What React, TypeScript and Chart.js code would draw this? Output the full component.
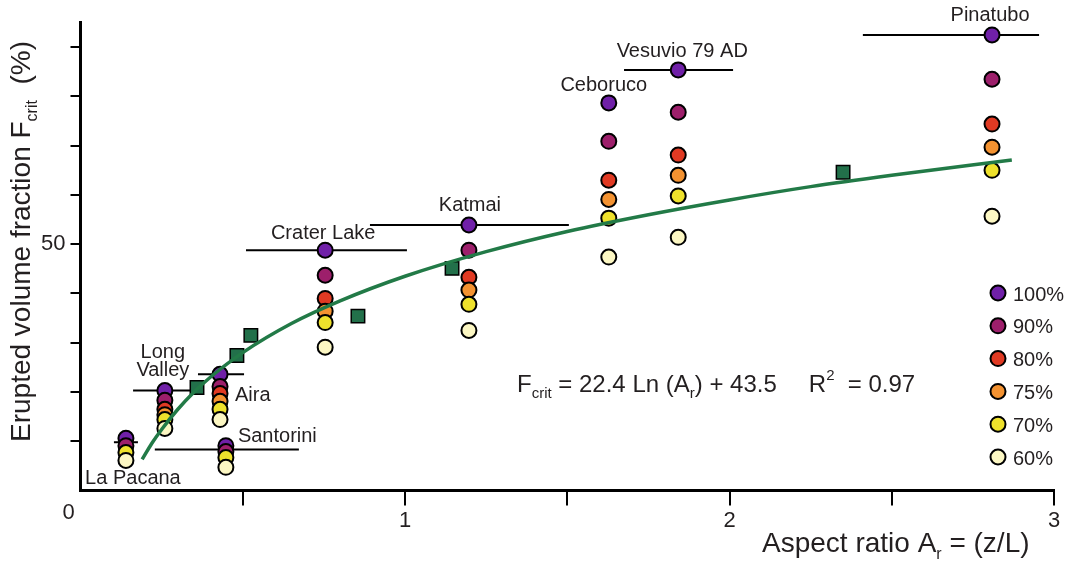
import React, { useEffect, useRef } from "react";
import { Chart, registerables } from "chart.js";

Chart.register(...registerables);

const FONT = '"Liberation Sans", Arial, Helvetica, sans-serif';
const TEXT = "#231f20";

// ---- categories ----
const volcanoes = ["La Pacana", "Long Valley", "Aira", "Santorini", "Crater Lake", "Katmai", "Ceboruco", "Vesuvio 79 AD", "Pinatubo"];
const aspectRatio = [0.14, 0.26, 0.43, 0.448, 0.754, 1.197, 1.628, 1.842, 2.809];

// ---- erupted volume fraction (%) for each percentage series ----
const f100 = [10.6, 20.3, 23.6, 9.1, 48.8, 53.9, 78.7, 85.4, 92.5];
const f90 = [9.1, 18.3, 21.1, 7.9, 43.7, 48.8, 70.9, 76.8, 83.5];
const f80 = [null, 16.5, 19.7, null, 39.0, 43.3, 63.0, 68.1, 74.4];
const f75 = [null, 15.4, 18.1, null, 36.4, 40.7, 59.1, 64.0, 69.7];
const f70 = [7.7, 14.4, 16.5, 6.7, 34.1, 37.8, 55.3, 59.8, 65.0];
const f60 = [6.1, 12.6, 14.4, 4.7, 29.1, 32.5, 47.4, 51.4, 55.7];
const seriesLabels = ["100%", "90%", "80%", "75%", "70%", "60%"];

// ---- aspect-ratio ranges (horizontal bars) ----
const rangeLow = [0.103, 0.162, 0.362, 0.229, 0.51, 0.892, null, 1.675, 2.411];
const rangeHigh = [0.177, 0.368, 0.504, 0.673, 1.006, 1.505, null, 2.011, 2.954];
const rangeY = [9.8, 20.3, 23.6, 8.3, 48.8, 53.9, null, 85.4, 92.5];

// ---- other data (green squares) ----
const otherX = [0.359, 0.482, 0.525, 0.855, 1.145, 2.35];
const otherY = [20.9, 27.4, 31.5, 35.4, 45.1, 64.6];

// ---- fitted curve ----
const fitX = [0.19, 0.22, 0.25, 0.3, 0.35, 0.4, 0.5, 0.65, 0.8, 1.0, 1.25, 1.5, 1.75, 2.0, 2.25, 2.5, 2.87];
const fitY = [6.3, 9.6, 12.4, 16.5, 20.0, 23.0, 28.0, 33.9, 38.5, 43.5, 48.5, 52.6, 56.0, 59.0, 61.7, 64.0, 67.1];

// ---- tick labels ----
const yLabelTicks = [50];
const xLabelTicks = [1, 2, 3];

// ---- styles ----
const seriesColors = ["#7020a8", "#9d1f6b", "#e03a23", "#f39231", "#eee12c", "#fcf7c3"];
const squareColor = "#22704a";
const curveColor = "#227a47";

const labelLayout = [
  { dx: 7, dy: 40, align: "center", split: false },
  { dx: -2, dy: -38, align: "center", split: true },
  { dx: 15, dy: 21, align: "left", split: false },
  { dx: 12, dy: -9, align: "left", split: false },
  { dx: -2, dy: -17, align: "center", split: false },
  { dx: 1, dy: -20, align: "center", split: false },
  { dx: -5, dy: -17, align: "center", split: false },
  { dx: 4, dy: -18, align: "center", split: false },
  { dx: -2, dy: -19, align: "center", split: false },
];

type Run = { text?: string; size?: number; dy?: number; gap?: number };

function drawRuns(ctx: CanvasRenderingContext2D, runs: Run[], x: number, y: number, rotate = false) {
  ctx.save();
  ctx.translate(x, y);
  if (rotate) ctx.rotate(-Math.PI / 2);
  ctx.textAlign = "left";
  ctx.textBaseline = "alphabetic";
  ctx.fillStyle = TEXT;
  let cx = 0;
  for (const r of runs) {
    if (r.gap) {
      cx += r.gap;
      continue;
    }
    ctx.font = `${r.size}px ${FONT}`;
    ctx.fillText(r.text as string, cx, r.dy || 0);
    cx += ctx.measureText(r.text as string).width;
  }
  ctx.restore();
}

const overlayPlugin = {
  id: "overlay",
  afterDatasetsDraw(chart: any) {
    const ctx: CanvasRenderingContext2D = chart.ctx;
    const xs = chart.scales.x;
    const ys = chart.scales.y;
    ctx.save();
    // volcano labels
    ctx.fillStyle = TEXT;
    ctx.font = `20px ${FONT}`;
    ctx.textBaseline = "middle";
    volcanoes.forEach((name, i) => {
      const L = labelLayout[i];
      const px = xs.getPixelForValue(aspectRatio[i]);
      const py = ys.getPixelForValue(f100[i] as number);
      ctx.textAlign = L.align as CanvasTextAlign;
      const lines = L.split ? name.split(" ") : [name];
      lines.forEach((t, j) => ctx.fillText(t, px + L.dx, py + L.dy + j * 18));
    });

    // origin label
    ctx.font = `22px ${FONT}`;
    ctx.textAlign = "center";
    ctx.fillText("0", xs.left - 12, xs.top + 22);

    // legend
    const lx = chart.chartArea.right - 56;
    const ly = 293;
    seriesLabels.forEach((lab, i) => {
      const cy = ly + i * 32.8;
      ctx.beginPath();
      ctx.arc(lx, cy, 7.5, 0, Math.PI * 2);
      ctx.fillStyle = seriesColors[i];
      ctx.fill();
      ctx.lineWidth = 2;
      ctx.strokeStyle = "#000";
      ctx.stroke();
      ctx.fillStyle = TEXT;
      ctx.font = `20px ${FONT}`;
      ctx.textAlign = "left";
      ctx.textBaseline = "middle";
      ctx.fillText(lab, lx + 15, cy + 2);
    });
    ctx.restore();

    // equation
    drawRuns(
      ctx,
      [
        { text: "F", size: 24 },
        { text: "crit", size: 15, dy: 6 },
        { text: " = 22.4 Ln (A", size: 24 },
        { text: "r", size: 15, dy: 6 },
        { text: ") + 43.5", size: 24 },
        { gap: 32 },
        { text: "R", size: 24 },
        { text: "2", size: 15, dy: -12 },
        { text: "  = 0.97", size: 24 },
      ],
      517,
      392
    );

    // axis titles
    drawRuns(
      ctx,
      [
        { text: "Aspect ratio A", size: 28 },
        { text: "r", size: 16, dy: 7 },
        { text: " = (z/L)", size: 28 },
      ],
      762,
      552
    );
    drawRuns(
      ctx,
      [
        { text: "Erupted volume fraction F", size: 28 },
        { text: "crit", size: 16, dy: 7 },
        { text: "  (%)", size: 28 },
      ],
      30,
      442,
      true
    );
  },
};

export default function App() {
  const canvasRef = useRef<HTMLCanvasElement | null>(null);

  useEffect(() => {
    const canvas = canvasRef.current;
    if (!canvas) return;

    const seriesValues = [f100, f90, f80, f75, f70, f60];
    const circleSets = seriesValues.map((vals, k) => ({
      type: "scatter" as const,
      label: seriesLabels[k],
      data: aspectRatio
        .map((x, i) => (vals[i] == null ? null : { x, y: vals[i] as number }))
        .filter((p) => p !== null),
      pointRadius: 7.5,
      pointBackgroundColor: seriesColors[k],
      pointBorderColor: "#000",
      pointBorderWidth: 2,
      order: 6 - k,
      clip: false,
    }));

    const barSets = rangeLow
      .map((lo, i) =>
        lo == null
          ? null
          : {
              type: "line" as const,
              label: "range " + volcanoes[i],
              data: [
                { x: lo, y: rangeY[i] as number },
                { x: rangeHigh[i] as number, y: rangeY[i] as number },
              ],
              borderColor: "#000",
              borderWidth: 2,
              pointRadius: 0,
              order: 8,
              clip: false,
            }
      )
      .filter((d) => d !== null);

    const squares = {
      type: "scatter" as const,
      label: "other",
      data: otherX.map((x, i) => ({ x, y: otherY[i] })),
      pointStyle: "rect",
      pointRadius: 9.5,
      pointBackgroundColor: squareColor,
      pointBorderColor: "#000",
      pointBorderWidth: 1.5,
      order: 7,
      clip: false,
    };

    const curve = {
      type: "line" as const,
      label: "fit",
      data: fitX.map((x, i) => ({ x, y: fitY[i] })),
      borderColor: curveColor,
      borderWidth: 3.5,
      pointRadius: 0,
      cubicInterpolationMode: "monotone",
      order: 0,
      clip: false,
    };

    const chart = new Chart(canvas, {
      type: "scatter",
      data: { datasets: [...circleSets, ...(barSets as any[]), squares, curve] as any },
      options: {
        responsive: false,
        animation: false,
        events: [],
        layout: { padding: { top: 22.6, right: 16, bottom: 0, left: 0 } },
        plugins: { legend: { display: false }, tooltip: { enabled: false } },
        scales: {
          x: {
            type: "linear",
            min: 0,
            max: 3,
            ticks: {
              stepSize: 0.5,
              autoSkip: false,
              maxRotation: 0,
              padding: 2.5,
              color: TEXT,
              font: { size: 22, family: FONT },
              callback: (v: any) => (xLabelTicks.includes(Number(v)) ? String(v) : ""),
            },
            grid: {
              display: true,
              drawOnChartArea: false,
              drawTicks: true,
              tickLength: 15,
              lineWidth: 2,
              color: (c: any) => (c.tick && c.tick.value === 0 ? "rgba(0,0,0,0)" : "#000"),
            },
            border: { display: true, color: "#000", width: 3 },
            afterFit: (s: any) => {
              s.height = 70.5;
            },
          },
          y: {
            type: "linear",
            min: 0,
            max: 95,
            ticks: {
              stepSize: 10,
              includeBounds: false,
              padding: 5,
              color: TEXT,
              font: { size: 22, family: FONT },
              callback: (v: any) => (yLabelTicks.includes(Number(v)) ? String(v) : ""),
            },
            grid: {
              display: true,
              drawOnChartArea: false,
              drawTicks: true,
              tickLength: 10,
              lineWidth: 2,
              color: (c: any) => (c.tick && c.tick.value === 0 ? "rgba(0,0,0,0)" : "#000"),
            },
            border: { display: true, color: "#000", width: 3 },
            afterFit: (s: any) => {
              s.width = 80.5;
            },
          },
        },
      } as any,
      plugins: [overlayPlugin as any],
    });

    return () => chart.destroy();
  }, []);

  return (
    <div style={{ position: "fixed", left: 0, top: 0, width: 1070, height: 561, background: "#fff" }}>
      <canvas ref={canvasRef} width={1070} height={561} style={{ display: "block" }} />
    </div>
  );
}
